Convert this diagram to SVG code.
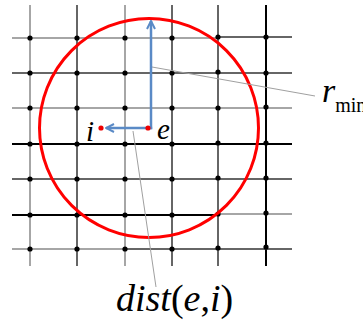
<svg xmlns="http://www.w3.org/2000/svg" width="363" height="321" viewBox="0 0 363 321">
<defs>
<style>
.g1{stroke:#888;stroke-width:1.5;fill:none}
.g2{stroke:#333;stroke-width:1.5;fill:none}
.g3{stroke:#000;stroke-width:2;fill:none}
.dot{fill:#000}
.rdot{fill:#e00}
.lead{stroke:#a0a0a0;stroke-width:1;fill:none}
.blue{stroke:#5a8ac6;stroke-width:2.5;fill:none}
.t{font-family:"Liberation Serif","Times New Roman",serif;font-style:italic;fill:#000}
.u{font-style:normal}
</style>
<marker id="ah" viewBox="0 0 10 10" refX="9" refY="5" markerWidth="4" markerHeight="4" markerUnits="strokeWidth" orient="auto">
<path d="M1,1 L9,5 L1,9" fill="none" stroke="#5a8ac6" stroke-width="2"/>
</marker>
</defs>
<rect width="363" height="321" fill="#fff"/>
<g id="grid">
<line class="g1" x1="30" y1="5" x2="30" y2="266"/>
<line class="g2" x1="77" y1="5" x2="77" y2="266"/>
<line class="g1" x1="125" y1="5" x2="125" y2="266"/>
<line class="g2" x1="172" y1="5" x2="172" y2="266"/>
<line class="g2" x1="218" y1="5" x2="218" y2="266"/>
<line class="g3" x1="266" y1="5" x2="266" y2="266"/>
<line class="g1" x1="12" y1="38" x2="218" y2="38"/>
<line class="g2" x1="218" y1="37" x2="292" y2="37"/>
<line class="g2" x1="12" y1="73" x2="292" y2="73"/>
<line class="g1" x1="12" y1="108" x2="292" y2="108"/>
<line class="g3" x1="12" y1="144" x2="292" y2="144"/>
<line class="g2" x1="12" y1="179" x2="292" y2="179"/>
<line class="g3" x1="12" y1="215" x2="218" y2="215"/>
<line class="g1" x1="218" y1="214" x2="292" y2="214"/>
<line class="g1" x1="12" y1="249" x2="125" y2="249"/>
<line class="g2" x1="125" y1="249" x2="292" y2="249"/>
</g>
<g id="dots">
<g class="dot">
<circle cx="30" cy="38" r="2.6"/><circle cx="77" cy="38" r="2.6"/><circle cx="125" cy="38" r="2.6"/><circle cx="172" cy="38" r="2.6"/><circle cx="218" cy="37" r="2.6"/><circle cx="266" cy="37" r="2.6"/>
<circle cx="30" cy="73" r="2.6"/><circle cx="77" cy="73" r="2.6"/><circle cx="125" cy="73" r="2.6"/><circle cx="172" cy="73" r="2.6"/><circle cx="218" cy="72" r="2.6"/><circle cx="266" cy="73" r="2.6"/>
<circle cx="30" cy="108" r="2.6"/><circle cx="77" cy="108" r="2.6"/><circle cx="125" cy="108" r="2.6"/><circle cx="172" cy="108" r="2.6"/><circle cx="218" cy="108" r="2.6"/><circle cx="266" cy="107" r="2.6"/>
<circle cx="30" cy="144" r="2.6"/><circle cx="77" cy="144" r="2.6"/><circle cx="125" cy="144" r="2.6"/><circle cx="172" cy="144" r="2.6"/><circle cx="218" cy="143" r="2.6"/><circle cx="266" cy="143" r="2.6"/>
<circle cx="30" cy="179" r="2.6"/><circle cx="77" cy="179" r="2.6"/><circle cx="125" cy="179" r="2.6"/><circle cx="172" cy="179" r="2.6"/><circle cx="218" cy="178" r="2.6"/><circle cx="266" cy="178" r="2.6"/>
<circle cx="30" cy="215" r="2.6"/><circle cx="77" cy="215" r="2.6"/><circle cx="125" cy="215" r="2.6"/><circle cx="172" cy="215" r="2.6"/><circle cx="218" cy="214" r="2.6"/><circle cx="266" cy="213" r="2.6"/>
<circle cx="30" cy="249" r="2.6"/><circle cx="77" cy="249" r="2.6"/><circle cx="125" cy="249" r="2.6"/><circle cx="172" cy="249" r="2.6"/><circle cx="218" cy="248" r="2.6"/><circle cx="266" cy="247" r="2.6"/>
</g>
</g>
<g id="circle">
<circle cx="149" cy="128" r="109.5" fill="none" stroke="#f00" stroke-width="3"/>
</g>
<g id="connectors">
<line class="lead" x1="152" y1="67" x2="315" y2="96"/>
<line class="lead" x1="133" y1="131" x2="156" y2="287"/>
<line class="blue" x1="151" y1="129.2" x2="151" y2="21" marker-end="url(#ah)"/>
<line class="blue" x1="152.2" y1="128" x2="106" y2="128" marker-end="url(#ah)"/>
</g>
<g id="node-e">
<circle class="rdot" cx="148" cy="128" r="2.6"/>
<text class="t" x="157" y="139" font-size="29">e</text>
</g>
<g id="node-i">
<circle class="rdot" cx="101" cy="128" r="2.6"/>
<text class="t" x="86" y="141" font-size="29">i</text>
</g>
<g id="label-rmin">
<text class="t" x="322" y="102" font-size="34">r<tspan class="u" font-size="20" dy="10">min</tspan></text>
</g>
<g id="label-dist">
<text class="t" x="116" y="311" font-size="38">dist<tspan class="u">(</tspan>e<tspan class="u">,</tspan>i<tspan class="u">)</tspan></text>
</g>
</svg>
